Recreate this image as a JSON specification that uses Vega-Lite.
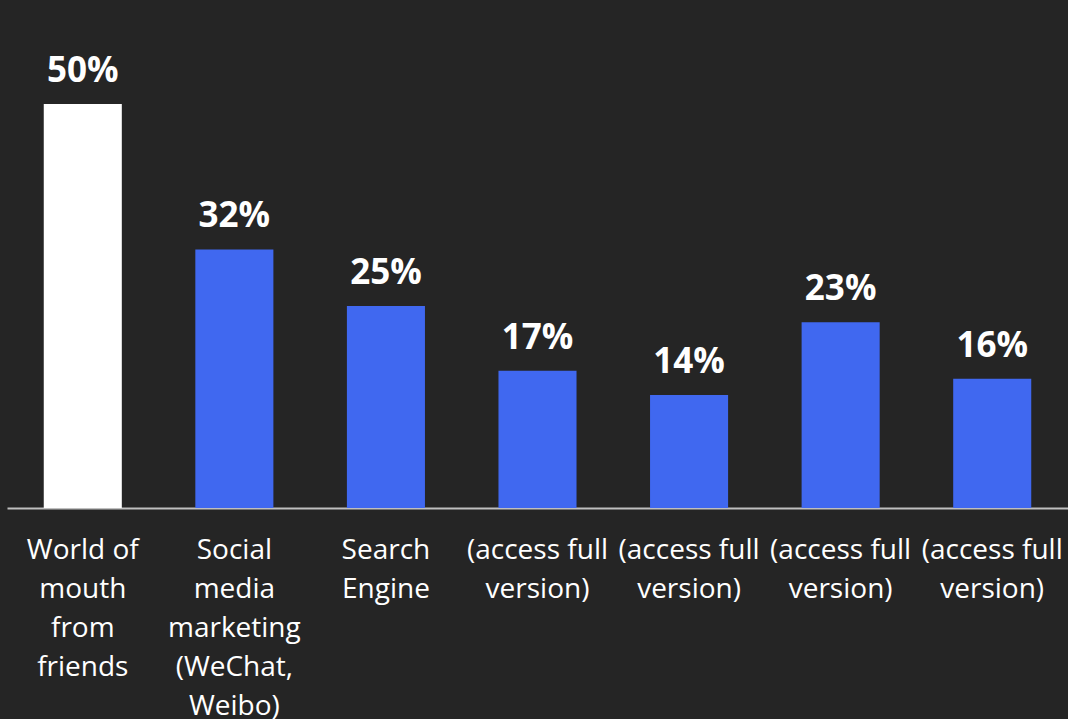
{
  "$schema": "https://vega.github.io/schema/vega-lite/v6.json",
  "autosize": "none",
  "width": 1061,
  "height": 404,
  "padding": {"left": 7, "top": 104, "right": 0, "bottom": 211},
  "background": "#252525",
  "config": {"view": {"stroke": null}, "font": "Open Sans"},
  "data": {"values": [
    {"key": "1|World of|mouth|from|friends", "value": 0.50},
    {"key": "2|Social|media|marketing|(WeChat,|Weibo)", "value": 0.32},
    {"key": "3|Search|Engine", "value": 0.25},
    {"key": "4|(access full|version)", "value": 0.17},
    {"key": "5|(access full|version)", "value": 0.14},
    {"key": "6|(access full|version)", "value": 0.23},
    {"key": "7|(access full|version)", "value": 0.16}
  ]},
  "encoding": {
    "x": {
      "field": "key", "type": "nominal", "sort": null,
      "scale": {"paddingInner": 0.485, "paddingOuter": 0.2425},
      "axis": {
        "title": null, "labelAngle": 0, "ticks": false, "domainColor": "#BFBFBF", "domainWidth": 2,
        "labelExpr": "slice(split(datum.label, '|'), 1)",
        "labelFont": "Open Sans", "labelFontSize": 28, "labelColor": "#FFFFFF",
        "labelLineHeight": 39, "labelPadding": 28, "labelLimit": 200, "labelBaseline": "top"
      }
    },
    "y": {"field": "value", "type": "quantitative", "scale": {"domain": [0, 0.5]}, "axis": null}
  },
  "layer": [
    {
      "mark": {"type": "bar"},
      "encoding": {
        "color": {"condition": {"test": "datum.value == 0.5", "value": "#FFFFFF"}, "value": "#4068F0"}
      }
    },
    {
      "mark": {"type": "text", "font": "Open Sans", "fontWeight": "bold", "fontSize": 35, "color": "#FFFFFF", "baseline": "alphabetic", "dy": -22},
      "encoding": {"text": {"field": "value", "type": "quantitative", "format": ".0%"}}
    }
  ]
}
